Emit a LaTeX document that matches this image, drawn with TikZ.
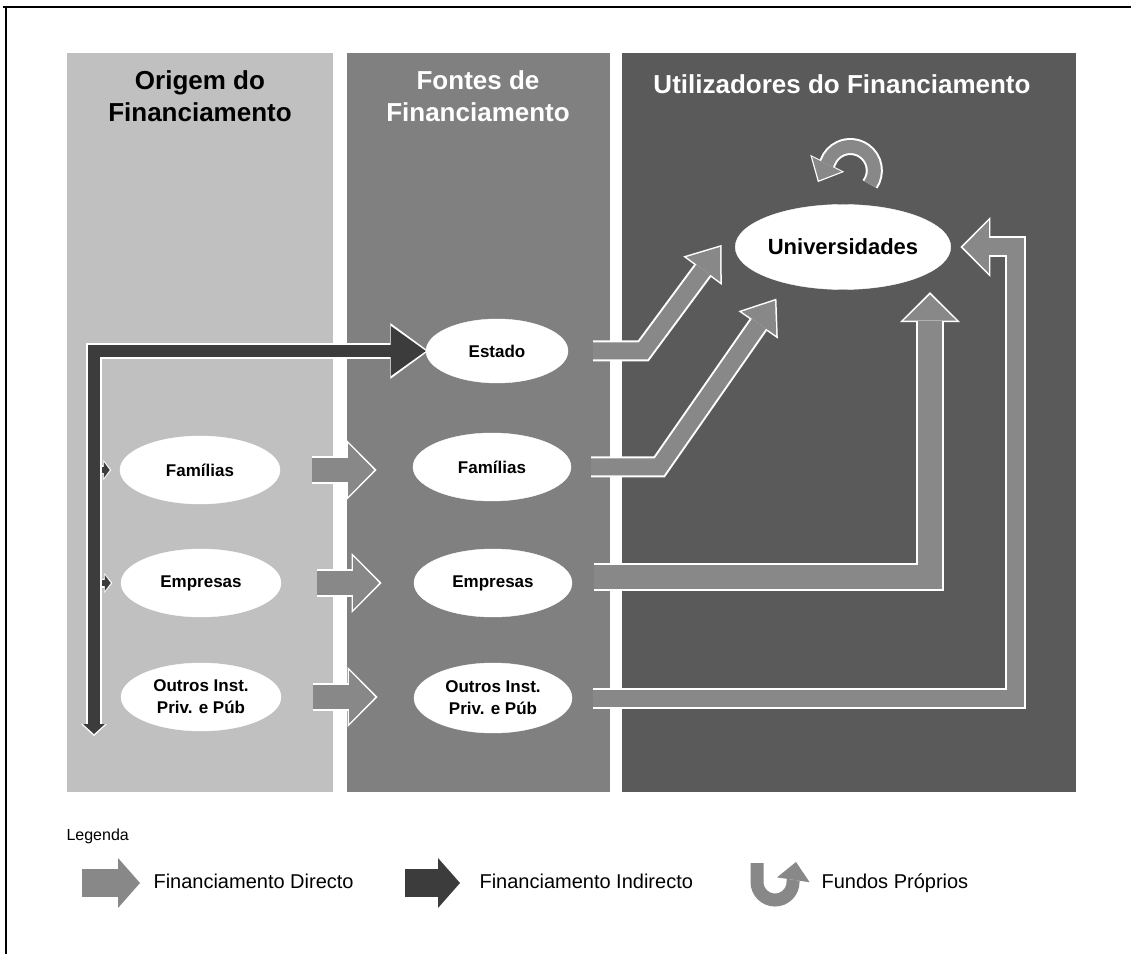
\documentclass[tikz,border=0pt]{standalone}
\usepackage{fontspec}
\setmainfont{Liberation Sans}
\usetikzlibrary{positioning,arrows.meta,calc,shapes.geometric}
\definecolor{OrigemGray}{HTML}{C0C0C0}
\definecolor{FontesGray}{HTML}{808080}
\definecolor{UtilGray}{HTML}{5A5A5A}
\definecolor{DirectGray}{HTML}{888888}
\definecolor{IndirectGray}{HTML}{3C3C3C}
\tikzset{
  entity/.style={ellipse,fill=white,draw=white,minimum width=160pt,minimum height=68pt,inner sep=1pt,align=center,font=\fontsize{17}{22}\selectfont\bfseries},
  colhead/.style={align=center,font=\fontsize{26}{32}\selectfont\bfseries},
  legtext/.style={anchor=west,text height=14pt,text depth=4pt,font=\fontsize{20}{24}\selectfont},
  direct/.style={preaction={draw=white,line width=#1+4pt,shorten >=-2.5pt,-{Triangle[length=30pt,width=60pt,line width=0pt]}},
    draw=DirectGray,line width=#1,-{Triangle[length=26pt,width=53pt,line width=0pt]}},
  direct/.default=24pt,
  directslim/.style={preaction={draw=white,line width=#1+4pt,shorten >=-2.5pt,-{Triangle[length=32pt,width=48pt,line width=0pt]}},
    draw=DirectGray,line width=#1,-{Triangle[length=28pt,width=42pt,line width=0pt]}},
  directslim/.default=17pt,
  ownfunds/.style={preaction={draw=white,line width=17pt,shorten >=-2pt,-{Triangle[length=21pt,width=38pt,line width=0pt]}},
    draw=DirectGray,line width=13pt,-{Triangle[length=18pt,width=33pt,line width=0pt]}},
  indirect/.style={preaction={draw=white,line width=16pt,shorten >=-2.5pt,shorten <=-2pt,{Triangle[length=12pt,width=26pt,line width=0pt]}-{Triangle[length=38pt,width=56pt,line width=0pt]}},
    draw=IndirectGray,line width=12pt,{Triangle[length=10pt,width=22pt,line width=0pt]}-{Triangle[length=35pt,width=50pt,line width=0pt]}},
  indstub/.style={preaction={draw=white,line width=9pt,shorten >=-1.5pt,-{Triangle[length=8pt,width=20pt,line width=0pt]}},
    draw=IndirectGray,line width=6pt,-{Triangle[length=6pt,width=16pt,line width=0pt]}},
  legarrow/.style={draw=#1,line width=28pt,-{Triangle[length=22pt,width=50pt,line width=0pt]}},
}
\begin{document}
\begin{tikzpicture}[x=1pt,y=1pt]
\useasboundingbox (0,0) rectangle (1131,954);
% frame
\draw[line width=2.2pt] (3,947) -- (1131,947);
\draw[line width=2.2pt] (6,948) -- (6,0);
% columns
\fill[OrigemGray] (67,162) rectangle (333,901);
\fill[FontesGray] (347,162) rectangle (610,901);
\fill[UtilGray] (622,162) rectangle (1076,901);
\node[colhead] (hOrigem) at (200,858) {Origem do\\Financiamento};
\node[colhead,text=white] (hFontes) at (478,858) {Fontes de\\Financiamento};
\node[colhead,text=white] (hUtil) at (842,870) {Utilizadores do Financiamento};

% nodes
\node[entity] (famO) at (200,484) {Famílias};
\node[entity] (empO) at (201,371) {Empresas};
\node[entity] (outO) at (201,257) {Outros Inst.\\Priv. e Púb};
\node[entity,minimum width=142pt,minimum height=64pt] (estado) at (497,603) {Estado};
\node[entity,minimum width=158pt] (famF) at (492,487) {Famílias};
\node[entity,minimum width=158pt] (empF) at (493,371) {Empresas};
\node[entity,minimum width=158pt,minimum height=70pt] (outF) at (493,256) {Outros Inst.\\Priv. e Púb};
\node[entity,minimum width=213pt,minimum height=85pt,font=\fontsize{22}{26}\selectfont\bfseries] (univ) at (843,707) {Universidades};

% indirect financing
\coordinate (indbot) at (94,220);
\draw[indstub] (indbot |- famO.west) -- ([xshift=-10pt]famO.west);
\draw[indstub] (indbot |- empO.west) -- ([xshift=-10pt]empO.west);
\draw[indirect] (indbot) |- (estado.west);

% direct financing
\draw[direct] ([xshift=32pt]famO.east) -- ++(62pt,0);
\draw[direct] ([xshift=36pt]empO.east) -- ++(62pt,0);
\draw[direct] ([xshift=32pt]outO.east) -- ++(62pt,0);
\draw[directslim] ([xshift=25pt]estado.east) -- ++(50pt,0) -- ([xshift=-15pt]univ.west);
\draw[directslim] ([xshift=20pt]famF.east) -- ++(68pt,0) -- ([xshift=-68pt,yshift=-11pt]univ.south);
\draw[direct] ([xshift=22pt,yshift=6pt]empF.east) -| ([xshift=87pt,yshift=-5pt]univ.south);
\draw[direct=17pt] ([xshift=21pt]outF.east) -| ([xshift=65pt]univ.east) -- ([xshift=12pt]univ.east);
\draw[ownfunds] ([xshift=27pt,yshift=20pt]univ.north) arc[start angle=-35,end angle=160,radius=24pt] -- ++(-9pt,-18pt);

% legend
\node[anchor=west,font=\fontsize{16}{20}\selectfont] (legenda) at (63,118) {Legenda};
\node[legtext] (lDirect) at (150,71) {Financiamento Directo};
\node[legtext] (lIndirect) at (476,71) {Financiamento Indirecto};
\node[legtext] (lOwn) at (818,71) {Fundos Próprios};
\draw[legarrow=DirectGray] ([xshift=-68pt]lDirect.west) -- ([xshift=-10pt]lDirect.west);
\draw[legarrow=IndirectGray] ([xshift=-71pt]lIndirect.west) -- ([xshift=-16pt]lIndirect.west);
\draw[ownfunds] ([xshift=-61pt,yshift=20pt]lOwn.west) -- ++(0,-19pt) arc[start angle=180,end angle=360,radius=18pt] -- ++(3pt,20pt);
\end{tikzpicture}
\end{document}
